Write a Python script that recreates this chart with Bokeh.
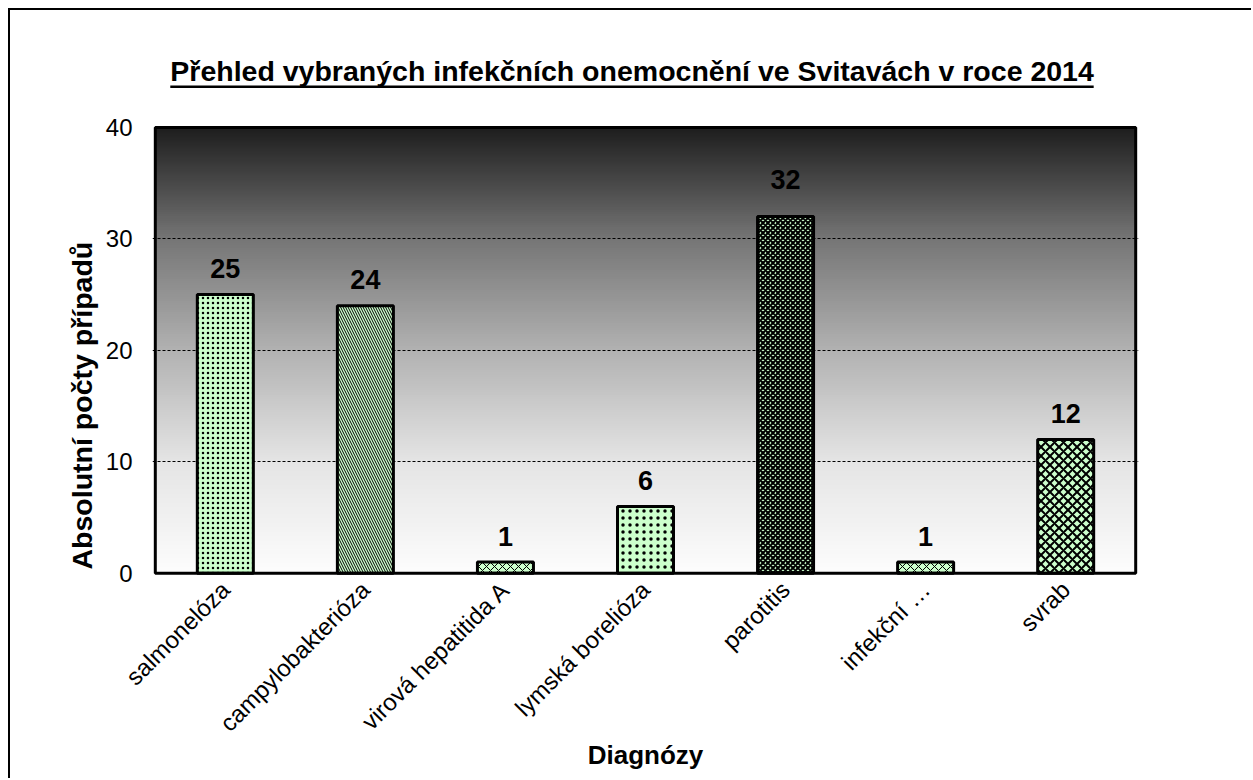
import numpy as np
from bokeh.plotting import figure
from bokeh.models import ColumnDataSource, FixedTicker, Range1d, Title
from bokeh.core.properties import value
from bokeh.embed import file_html
from bokeh.resources import INLINE

# ---- data ----
categories = ["salmonelóza", "campylobakterióza", "virová hepatitida A",
              "lymská borelióza", "parotitis", "infekční …", "svrab"]
cases = [25, 24, 1, 6, 32, 1, 12]
y_ticks = [0, 10, 20, 30, 40]
grid_ticks = [10, 20, 30]
title_text = "Přehled vybraných infekčních onemocnění ve Svitavách v roce 2014"
y_title = "Absolutní počty případů"
x_title = "Diagnózy"

# ---- styles ----
hatch_patterns = ["dot", "left_diagonal_line", "diagonal_cross", "dot",
                  "diagonal_cross", "diagonal_cross", "diagonal_cross"]
hatch_scales = [5, 5, 8, 7, 5, 8, 9]
hatch_weights = [1.0, 1.0, 1.0, 1.0, 2.0, 1.0, 2.0]
label_offsets = [-26, -26, -26, -26, -37, -26, -26]
FONT = "Liberation Sans"

n = len(categories)
xs = list(range(1, n + 1))
src = ColumnDataSource(dict(x=xs, top=cases, label=[str(c) for c in cases],
                            hp=hatch_patterns, hs=hatch_scales, hw=hatch_weights,
                            yo=label_offsets))

Y_MAX = 40
p = figure(width=1243, height=770, output_backend="svg", toolbar_location=None,
           x_range=Range1d(0.48, n + 0.52), y_range=Range1d(-0.2, 46.9),
           min_border_left=142, min_border_right=115, min_border_top=40,
           min_border_bottom=205)
p.styles = {"margin-left": "8px", "margin-top": "8px",
            "border-left": "2px solid black", "border-top": "2px solid black"}

# gradient background of the plot area (style only)
stops_t = [0.0, 0.16, 0.25, 0.5, 0.75, 1.0]
stops_v = [30, 85, 118, 178, 229, 253]
ny = 200
t = np.linspace(1.0, 0.0, ny)  # image row 0 is bottom
vals = np.interp(t, stops_t, stops_v).astype(np.uint8)
img = np.zeros((ny, 4), dtype=np.uint32)
view = img.view(dtype=np.uint8).reshape((ny, 4, 4))
view[:, :, 0] = vals[:, None]
view[:, :, 1] = vals[:, None]
view[:, :, 2] = vals[:, None]
view[:, :, 3] = 255
p.image_rgba(image=[img], x=0.5, y=0, dw=n, dh=Y_MAX, level="image")

p.background_fill_color = "white"
p.border_fill_color = "white"
p.outline_line_color = None

p.vbar(x="x", top="top", bottom=0, width=0.4, source=src,
       fill_color="#CCFFCC", line_color="black", line_width=3,
       hatch_pattern="hp", hatch_scale="hs", hatch_weight="hw", hatch_color="black")

# plot-area border
p.quad(left=0.5, right=n + 0.5, bottom=0, top=Y_MAX, fill_color=None,
       line_color="black", line_width=3)

p.text(x="x", y="top", text="label", source=src, text_align="center",
       text_baseline="alphabetic", y_offset="yo",
       text_font=value(FONT), text_font_size="27px", text_font_style="bold",
       text_color="black")

# chart title with underline
p.text(x=[3.904], y=[45.08], text=[title_text], text_align="center",
       text_baseline="alphabetic", text_font=value(FONT), text_font_size="28.5px",
       text_font_style="bold", text_color="black")
p.segment(x0=[0.607], x1=[7.2], y0=[43.64], y1=[43.64], line_color="black",
          line_width=2.5)

# grid
p.xgrid.grid_line_color = None
p.ygrid.ticker = FixedTicker(ticks=grid_ticks)
p.ygrid.grid_line_color = "black"
p.ygrid.grid_line_dash = "3 2"
p.ygrid.grid_line_width = 1

# axes
p.yaxis.ticker = FixedTicker(ticks=y_ticks)
p.yaxis.axis_line_color = None
p.yaxis.major_tick_line_color = None
p.yaxis.minor_tick_line_color = None
p.yaxis.major_label_text_font = FONT
p.yaxis.major_label_text_font_size = "24px"
p.yaxis.major_label_text_color = "black"
p.yaxis.major_label_standoff = 14

p.xaxis.ticker = FixedTicker(ticks=xs)
p.xaxis.major_label_overrides = {x: c for x, c in zip(xs, categories)}
p.xaxis.major_label_orientation = np.pi / 4
p.xaxis.axis_line_color = None
p.xaxis.major_tick_line_color = None
p.xaxis.minor_tick_line_color = None
p.xaxis.major_label_text_font = FONT
p.xaxis.major_label_text_font_size = "24px"
p.xaxis.major_label_text_color = "black"
p.xaxis.major_label_standoff = 4
p.xaxis.axis_label = x_title
p.xaxis.axis_label_text_font = FONT
p.xaxis.axis_label_text_font_size = "26px"
p.xaxis.axis_label_text_font_style = "bold"
p.xaxis.axis_label_text_color = "black"
p.xaxis.axis_label_standoff = -9

# y title
p.add_layout(Title(text=y_title, align="left", offset=6, standoff=9,
                   text_font=FONT, text_font_size="28.5px", text_font_style="bold",
                   text_color="black"), "left")

open("out.html", "w").write(file_html(p, INLINE))
